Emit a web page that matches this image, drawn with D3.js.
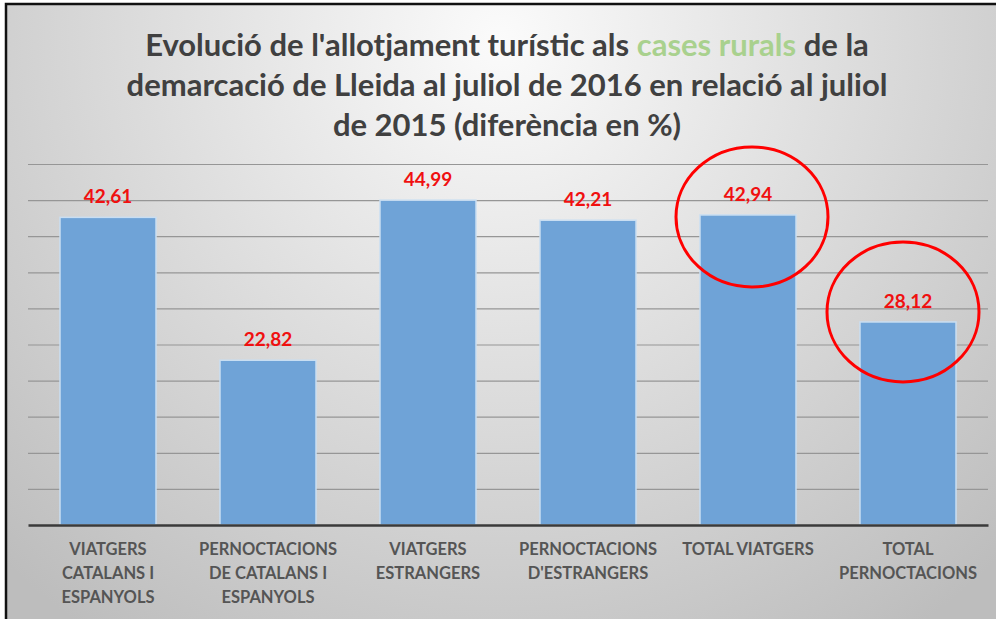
<!DOCTYPE html>
<html>
<head>
<meta charset="utf-8">
<script src="https://cdn.jsdelivr.net/npm/d3@7"></script>
<style>
  html, body { margin: 0; padding: 0; background: #fff; }
  svg { display: block; }
</style>
</head>
<body>
<div id="chart"></div>
<script>
// Chart data
var categories = [
  ["VIATGERS", "CATALANS I", "ESPANYOLS"],
  ["PERNOCTACIONS", "DE CATALANS I", "ESPANYOLS"],
  ["VIATGERS", "ESTRANGERS"],
  ["PERNOCTACIONS", "D'ESTRANGERS"],
  ["TOTAL VIATGERS"],
  ["TOTAL", "PERNOCTACIONS"]
];
var values = [42.61, 22.82, 44.99, 42.21, 42.94, 28.12];
var valueLabels = ["42,61", "22,82", "44,99", "42,21", "42,94", "28,12"];
var highlighted = [4, 5]; // indexes circled in red (hand drawn in the original)
var circleShift = [[4, 2], [-5, -10]]; // small nudge of each hand drawn circle

var width = 996, height = 619;

var svg = d3.select('#chart')
  .append('svg')
  .attr('width', width)
  .attr('height', height);

// background gradient
var defs = svg.append('defs');
var grad = defs.append('radialGradient')
  .attr('id', 'bg')
  .attr('gradientUnits', 'userSpaceOnUse')
  .attr('cx', 500).attr('cy', 40).attr('r', 720);
grad.append('stop').attr('offset', '0%').attr('stop-color', '#fbfbfb');
grad.append('stop').attr('offset', '100%').attr('stop-color', '#bdbdbd');

svg.append('rect')
  .attr('x', 6).attr('y', 4)
  .attr('width', width).attr('height', height)
  .attr('fill', 'url(#bg)')
  .attr('stroke', '#111')
  .attr('stroke-width', 2.5);

// title
var title = svg.append('text')
  .attr('text-anchor', 'middle')
  .attr('font-family', 'Lato, sans-serif')
  .attr('font-weight', 700)
  .attr('font-size', 31)
  .attr('fill', '#404040');
var l1 = title.append('tspan').attr('x', 507).attr('y', 56);
l1.append('tspan').text("Evolució de l'allotjament turístic als ");
l1.append('tspan').attr('fill', '#a9d18e').text('cases rurals');
l1.append('tspan').text(' de la');
title.append('tspan').attr('x', 507).attr('y', 96)
  .text('demarcació de Lleida al juliol de 2016 en relació al juliol');
title.append('tspan').attr('x', 507).attr('y', 136)
  .text('de 2015 (diferència en %)');

// scales
var x = d3.scaleBand()
  .domain(d3.range(values.length))
  .range([28, 988])
  .paddingInner(0.4)
  .paddingOuter(0.2);

var y = d3.scaleLinear()
  .domain([0, 50])
  .range([525, 164]);

// gridlines
svg.append('g')
  .attr('transform', 'translate(28,0)')
  .call(d3.axisLeft(y).tickValues(d3.range(5, 51, 5)).tickSize(-960).tickFormat(''))
  .call(function (g) {
    g.select('.domain').remove();
    g.selectAll('.tick line').attr('stroke', '#969696').attr('stroke-width', 1.2);
  });

// bars
svg.append('g').selectAll('rect')
  .data(values)
  .enter()
  .append('rect')
  .attr('x', function (d, i) { return x(i); })
  .attr('y', function (d) { return y(d); })
  .attr('width', x.bandwidth())
  .attr('height', function (d) { return y(0) - y(d); })
  .attr('fill', '#6fa3d7')
  .attr('stroke', '#c9def2')
  .attr('stroke-width', 1.5);

// baseline
svg.append('g')
  .attr('transform', 'translate(0,525)')
  .call(d3.axisBottom(x).tickSize(0).tickFormat(''))
  .call(function (g) {
    g.select('.domain').attr('stroke', '#3a3a3a').attr('stroke-width', 2.5);
  });

// value labels
svg.append('g').selectAll('text')
  .data(values)
  .enter()
  .append('text')
  .attr('x', function (d, i) { return x(i) + x.bandwidth() / 2; })
  .attr('y', function (d) { return y(d) - 14; })
  .attr('text-anchor', 'middle')
  .attr('font-family', 'Lato, sans-serif')
  .attr('font-weight', 700)
  .attr('font-size', 19)
  .attr('fill', '#f01010')
  .text(function (d, i) { return valueLabels[i]; });

// category labels
var cat = svg.append('g').selectAll('text')
  .data(categories)
  .enter()
  .append('text')
  .attr('text-anchor', 'middle')
  .attr('font-family', 'Lato, sans-serif')
  .attr('font-weight', 700)
  .attr('font-size', 16.5)
  .attr('fill', '#555555');
cat.selectAll('tspan')
  .data(function (d, i) { return d.map(function (s) { return { s: s, i: i }; }); })
  .enter()
  .append('tspan')
  .attr('x', function (d) { return x(d.i) + x.bandwidth() / 2; })
  .attr('y', function (d, j) { return 555 + j * 24; })
  .text(function (d) { return d.s; });

// red circles around highlighted values
svg.append('g').selectAll('ellipse')
  .data(highlighted)
  .enter()
  .append('ellipse')
  .attr('cx', function (i, k) { return x(i) + x.bandwidth() / 2 + circleShift[k][0]; })
  .attr('cy', function (i, k) { return y(values[i]) + circleShift[k][1]; })
  .attr('rx', 76)
  .attr('ry', 70)
  .attr('fill', 'none')
  .attr('stroke', '#ff0000')
  .attr('stroke-width', 3);
</script>
</body>
</html>
